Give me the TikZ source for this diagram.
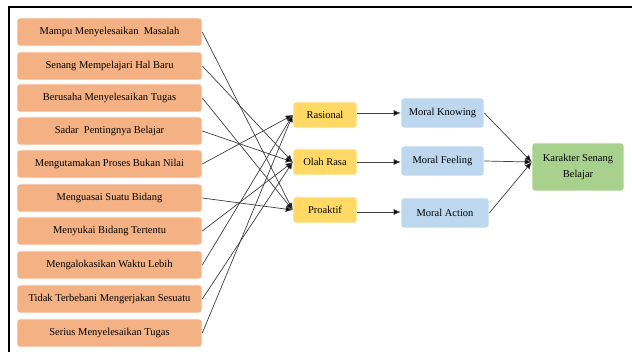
\documentclass[tikz,border=0pt]{standalone}
\usepackage{fontspec}
\setmainfont{Liberation Serif}
\usetikzlibrary{arrows.meta}
\definecolor{boxorange}{HTML}{F4B183}
\definecolor{boxyellow}{HTML}{FFD966}
\definecolor{boxblue}{HTML}{BDD7EE}
\definecolor{boxgreen}{HTML}{A9D18E}
\definecolor{linegray}{HTML}{404040}
\tikzset{
  base/.style={rounded corners=3pt, draw=white, line width=0.6pt, align=center, inner sep=0pt,
    font=\fontsize{10.5}{16}\selectfont, text=black},
  leftbox/.style={base, fill=boxorange, minimum width=185pt, minimum height=28pt},
  midbox/.style={base, fill=boxyellow, minimum width=64pt, minimum height=26pt},
  bluebox/.style={base, fill=boxblue, minimum height=30pt},
  greenbox/.style={base, fill=boxgreen, minimum width=92pt, minimum height=48pt},
  conn/.style={draw=linegray, line width=0.7pt, -{Latex[length=7pt,width=6pt,fill=black]}},
}
\begin{document}
\begin{tikzpicture}[x=1pt,y=-1pt]
\useasboundingbox (0,0) rectangle (632,352);
\fill[white] (0,0) rectangle (632,352);
\draw[line width=2pt] (8.7,352) -- (8.7,6.7) -- (632,6.7);

\node[leftbox] (L1) at (109.5,32) {Mampu Menyelesaikan\ \ Masalah};
\node[leftbox] (L2) at (109.5,66) {Senang Mempelajari Hal Baru};
\node[leftbox] (L3) at (109.5,98) {Berusaha Menyelesaikan Tugas};
\node[leftbox] (L4) at (109.5,131) {Sadar\ \ Pentingnya Belajar};
\node[leftbox] (L5) at (109.5,164) {Mengutamakan Proses Bukan Nilai};
\node[leftbox] (L6) at (109.5,198) {Menguasai Suatu Bidang};
\node[leftbox] (L7) at (109.5,231) {Menyukai Bidang Tertentu};
\node[leftbox] (L8) at (109.5,265) {Mengalokasikan Waktu Lebih};
\node[leftbox] (L9) at (109.5,299) {Tidak Terbebani Mengerjakan Sesuatu};
\node[leftbox] (L10) at (109.5,333) {Serius Menyelesaikan Tugas};

\node[midbox] (R) at (325,115) {Rasional};
\node[midbox] (O) at (325,162) {Olah Rasa};
\node[midbox] (P) at (325,210) {Proaktif};

\node[bluebox, minimum width=83pt] (MK) at (442.5,113) {Moral Knowing};
\node[bluebox, minimum width=83pt] (MF) at (442.5,161) {Moral Feeling};
\node[bluebox, minimum width=88pt] (MA) at (445,213) {Moral Action};

\node[greenbox] (G) at (578,167) {Karakter Senang\\Belajar};

\draw[conn] (L1.east) -- (P.west);
\draw[conn] (L2.east) -- (O.west);
\draw[conn] (L3.east) -- (P.west);
\draw[conn] (L4.east) -- (O.west);
\draw[conn] (L5.east) -- (R.west);
\draw[conn] (L6.east) -- (P.west);
\draw[conn] (L7.east) -- (O.west);
\draw[conn] (L8.east) -- (R.west);
\draw[conn] (L9.east) -- (O.west);
\draw[conn] (L10.east) -- (R.west);

\draw[conn] ([yshift=2pt]R.east) -- ([yshift=2pt]R.east -| MK.west);
\draw[conn] (O.east) -- (O.east -| MF.west);
\draw[conn] ([yshift=-2pt]P.east) -- ([yshift=-2pt]P.east -| MA.west);

\draw[conn] (MK.east) -- ([yshift=5pt]G.west);
\draw[conn] (MF.east) -- ([yshift=5pt]G.west);
\draw[conn] (MA.east) -- ([yshift=5pt]G.west);
\end{tikzpicture}
\end{document}
